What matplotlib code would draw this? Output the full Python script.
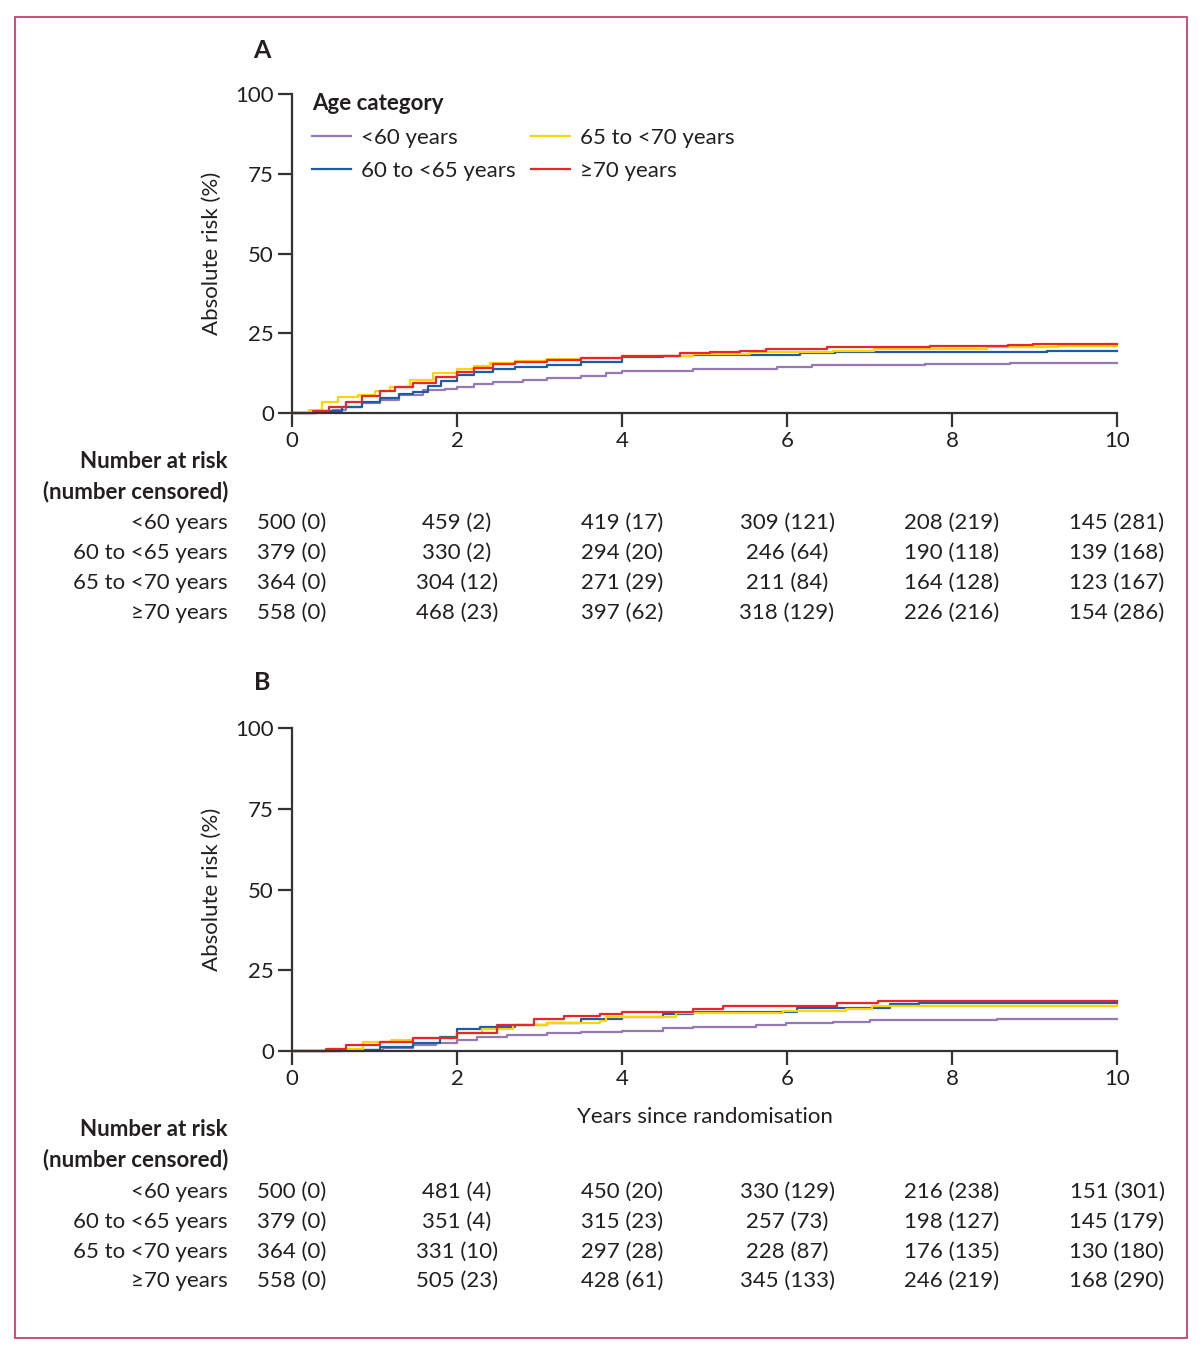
import matplotlib
matplotlib.use("Agg")
import matplotlib.pyplot as plt
import matplotlib.transforms as mtransforms
from matplotlib.patches import Rectangle

plt.rcParams['font.family'] = ['Lato', 'DejaVu Sans']

groups = ["<60 years", "60 to <65 years", "65 to <70 years", "\u226570 years"]
colors = ["#9579b5", "#1a5ca5", "#ffd500", "#e8262b"]
xticks = [0, 2, 4, 6, 8, 10]
yticks = [0, 25, 50, 75, 100]

# Panel A curves (years, absolute risk %)
A_lt60_t = [0, 0.3, 0.5, 0.66, 0.85, 1.07, 1.3, 1.59, 1.85, 2.0, 2.2, 2.44, 2.8, 3.09, 3.5, 3.8, 4.0, 4.86, 5.1, 5.88, 6.3, 7.67, 8.7, 10]
A_lt60_r = [0, 0.5, 1.0, 1.8, 3.0, 4.0, 5.5, 7.2, 7.5, 8.3, 9.0, 9.8, 10.5, 10.9, 11.5, 12.5, 13.3, 13.7, 13.8, 14.3, 14.9, 15.4, 15.8, 15.8]
A_60_t = [0, 0.3, 0.6, 0.85, 1.07, 1.3, 1.47, 1.65, 1.8, 2.0, 2.2, 2.44, 2.7, 3.09, 3.5, 4.0, 4.5, 4.86, 6.16, 6.58, 9.15, 10]
A_60_r = [0, 0.5, 2.0, 3.5, 4.7, 5.8, 6.7, 8.5, 10.0, 12.0, 13.0, 13.7, 14.5, 15.0, 16.0, 17.4, 17.8, 18.2, 18.7, 19.0, 19.5, 19.5]
A_65_t = [0, 0.2, 0.36, 0.56, 0.8, 1.0, 1.19, 1.43, 1.71, 2.0, 2.2, 2.4, 2.7, 3.09, 3.5, 4.0, 4.86, 5.55, 6.56, 7.05, 8.42, 9.28, 10]
A_65_r = [0, 0.8, 3.5, 5.1, 5.6, 6.8, 8.2, 10.3, 12.6, 13.7, 14.8, 15.8, 16.3, 16.8, 17.3, 18.0, 18.5, 19.0, 19.5, 20.0, 20.6, 21.1, 21.1]
A_70_t = [0, 0.26, 0.45, 0.66, 0.85, 1.07, 1.25, 1.47, 1.75, 2.0, 2.2, 2.44, 2.7, 3.09, 3.5, 4.0, 4.7, 5.07, 5.43, 5.75, 6.48, 7.73, 8.68, 8.98, 10]
A_70_r = [0, 0.5, 2.0, 3.5, 5.2, 7.0, 8.2, 9.5, 11.3, 13.0, 14.2, 15.5, 16.0, 16.5, 17.2, 17.8, 18.7, 19.0, 19.5, 20.0, 20.7, 21.1, 21.4, 21.7, 21.7]

# Panel B curves
B_lt60_t = [0, 0.86, 1.1, 1.47, 1.75, 2.0, 2.24, 2.6, 3.09, 3.5, 4.0, 4.5, 4.86, 5.63, 5.99, 6.56, 7.0, 8.54, 10]
B_lt60_r = [0, 0.3, 1.0, 1.9, 2.6, 3.4, 4.4, 5.0, 5.5, 5.9, 6.3, 7.0, 7.5, 8.0, 8.6, 9.1, 9.5, 9.9, 9.9]
B_60_t = [0, 0.6, 1.07, 1.47, 1.79, 2.0, 2.28, 2.7, 3.09, 3.5, 4.0, 4.5, 4.86, 6.12, 7.25, 7.6, 10]
B_60_r = [0, 0.3, 1.1, 2.4, 4.4, 6.7, 7.5, 8.0, 8.6, 9.8, 10.6, 11.5, 12.2, 13.4, 14.5, 15.0, 15.0]
B_65_t = [0, 0.46, 0.86, 1.2, 1.47, 2.0, 2.3, 2.68, 3.09, 3.73, 3.8, 4.66, 5.95, 6.72, 7.03, 10]
B_65_r = [0, 0.6, 2.9, 3.3, 3.9, 5.5, 6.8, 8.0, 8.6, 9.3, 10.6, 11.9, 12.5, 13.0, 14.0, 14.2]
B_70_t = [0, 0.41, 0.66, 1.07, 1.47, 2.0, 2.48, 2.93, 3.3, 3.73, 4.0, 4.86, 5.23, 6.6, 7.1, 10]
B_70_r = [0, 0.5, 1.8, 2.9, 3.9, 5.7, 7.9, 9.8, 10.8, 11.6, 12.0, 12.9, 13.9, 14.8, 15.5, 15.6]

# Number at risk (number censored)
A_risk = [[500, 459, 419, 309, 208, 145],
          [379, 330, 294, 246, 190, 139],
          [364, 304, 271, 211, 164, 123],
          [558, 468, 397, 318, 226, 154]]
A_cens = [[0, 2, 17, 121, 219, 281],
          [0, 2, 20, 64, 118, 168],
          [0, 12, 29, 84, 128, 167],
          [0, 23, 62, 129, 216, 286]]
B_risk = [[500, 481, 450, 330, 216, 151],
          [379, 351, 315, 257, 198, 145],
          [364, 331, 297, 228, 176, 130],
          [558, 505, 428, 345, 246, 168]]
B_cens = [[0, 4, 20, 129, 238, 301],
          [0, 4, 23, 73, 127, 179],
          [0, 10, 28, 87, 135, 180],
          [0, 23, 61, 133, 219, 290]]

W, H = 1204, 1358
fig = plt.figure(figsize=(W / 100, H / 100), dpi=100)

def fx(px):
    return px / W

def fy(py):
    return 1 - py / H

fig.patches.append(Rectangle((fx(15), fy(1338)), fx(1187) - fx(15), fy(17) - fy(1338),
                             transform=fig.transFigure, fill=False, edgecolor="#c4426f", lw=1.3))

FS = 16
TXT = "#231f20"
SP = "#333333"

def make_axes(top_px, bot_px):
    ax = fig.add_axes([fx(292), fy(bot_px), fx(1117) - fx(292), fy(top_px) - fy(bot_px)])
    ax.set_xlim(0, 10)
    ax.set_ylim(0, 100)
    for s in ["top", "right"]:
        ax.spines[s].set_visible(False)
    for s in ["left", "bottom"]:
        ax.spines[s].set_color(SP)
        ax.spines[s].set_linewidth(1.6)
    ax.set_xticks(xticks)
    ax.set_yticks(yticks)
    ax.tick_params(axis="both", direction="out", length=10, width=1.6, color=SP,
                   labelsize=FS, labelcolor=TXT)
    ax.tick_params(axis="x", pad=3)
    ax.tick_params(axis="y", pad=3)
    ax.set_ylabel("Absolute risk (%)", fontsize=FS, color=TXT, labelpad=10)
    return ax

def draw_table(ax, risk, cens, y_head, y_rows):
    tr = mtransforms.blended_transform_factory(ax.transData, fig.transFigure)
    fig.text(fx(228), fy(y_head), "Number at risk", ha="right", va="center",
             fontsize=FS, fontweight="bold", color=TXT)
    fig.text(fx(228), fy(y_head + 30), "(number censored)", ha="right", va="center",
             fontsize=FS, fontweight="bold", color=TXT)
    for i, g in enumerate(groups):
        fig.text(fx(228), fy(y_rows[i]), g, ha="right", va="center", fontsize=FS, color=TXT)
        for j, x in enumerate(xticks):
            ax.text(x, fy(y_rows[i]), f"{risk[i][j]} ({cens[i][j]})", transform=tr,
                    ha="center", va="center", fontsize=FS, color=TXT, clip_on=False)

# Panel A
axA = make_axes(94, 413)
curvesA = [(A_lt60_t, A_lt60_r), (A_60_t, A_60_r), (A_65_t, A_65_r), (A_70_t, A_70_r)]
order = [0, 1, 2, 3]
for k in order:
    t, r = curvesA[k]
    axA.plot(t, r, drawstyle="steps-post", color=colors[k], lw=1.6, label=groups[k], clip_on=False)
leg = axA.legend(ncol=2, loc="upper left", bbox_to_anchor=(0.0, 1.065), frameon=False,
                 title="Age category", alignment="left", fontsize=FS, handlelength=1.75,
                 columnspacing=0.7, labelspacing=0.6, handletextpad=0.45,
                 title_fontproperties={"weight": "bold", "size": FS})
for t in leg.get_texts():
    t.set_color(TXT)
leg.get_title().set_color(TXT)
fig.text(fx(262), fy(50), "A", ha="center", va="center", fontsize=18, fontweight="bold", color=TXT)
draw_table(axA, A_risk, A_cens, 462, [523, 553, 583, 613])

# Panel B
axB = make_axes(728, 1051)
curvesB = [(B_lt60_t, B_lt60_r), (B_60_t, B_60_r), (B_65_t, B_65_r), (B_70_t, B_70_r)]
for k in order:
    t, r = curvesB[k]
    axB.plot(t, r, drawstyle="steps-post", color=colors[k], lw=1.6, clip_on=False)
axB.set_xlabel("Years since randomisation", fontsize=FS, color=TXT, labelpad=13)
fig.text(fx(262), fy(682), "B", ha="center", va="center", fontsize=18, fontweight="bold", color=TXT)
draw_table(axB, B_risk, B_cens, 1130, [1192, 1222, 1252, 1281])

fig.savefig("out.png", dpi=100)
